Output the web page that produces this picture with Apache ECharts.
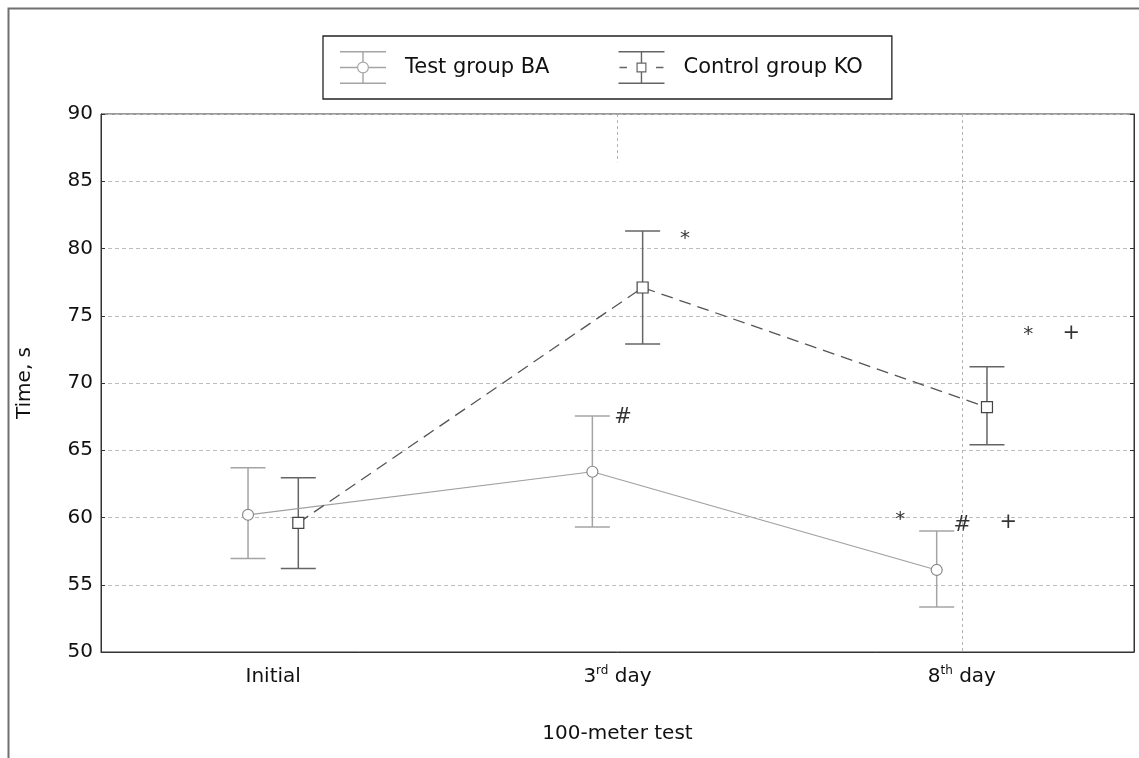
<!DOCTYPE html>
<html>
<head>
<meta charset="utf-8">
<script src="https://cdn.jsdelivr.net/npm/echarts@6/dist/echarts.min.js"></script>
<style>
  html, body { margin: 0; padding: 0; background: #fff; }
  #chart { width: 1139px; height: 758px; }
</style>
</head>
<body>
<div id="chart"></div>
<script>
// ---- data ----
const categories = ['Initial', '3rd day', '8th day'];
const yTicks = [50, 55, 60, 65, 70, 75, 80, 85, 90];

const testMean = [60.2, 63.4, 56.1];
const testLow  = [56.95, 59.3, 53.35];
const testHigh = [63.7, 67.55, 59.0];

const controlMean = [59.6, 77.1, 68.2];
const controlLow  = [56.2, 72.9, 65.4];
const controlHigh = [62.95, 81.3, 71.2];

// significance marks (text, x in category units, y in seconds)
const annoText = ['*', '#', '*', '+', '*', '#', '+'];
const annoX    = [1.196, 1.016, 2.193, 2.318, 1.821, 2.001, 2.135];
const annoY    = [81.2, 67.4, 74.0, 73.7, 60.3, 59.4, 59.6];

// reference vertical lines: [x, yFrom, yTo]
const refLines = [[2, 90, 50], [1, 90, 86.4]];

// ---- styling ----
const F = 'DejaVu Sans';
const OFF = 0.073;            // horizontal dodge between the two groups
const TEST_COLOR = '#a4a4a4';
const CTRL_COLOR = '#656565';

function errorBars(mean, low, high, sign) {
  return mean.map((m, i) => [i + sign * OFF, low[i], high[i]]);
}
function linePts(mean, sign) {
  return mean.map((m, i) => [i + sign * OFF, m]);
}
function barRenderer(color) {
  return function (params, api) {
    const x = api.value(0);
    const bot = api.coord([x, api.value(1)]);
    const top = api.coord([x, api.value(2)]);
    const hw = 17.5;
    const st = { stroke: color, lineWidth: 1.5, fill: null };
    return {
      type: 'group',
      children: [
        { type: 'line', shape: { x1: top[0], y1: top[1], x2: bot[0], y2: bot[1] }, style: st },
        { type: 'line', shape: { x1: top[0] - hw, y1: top[1], x2: top[0] + hw, y2: top[1] }, style: st },
        { type: 'line', shape: { x1: bot[0] - hw, y1: bot[1], x2: bot[0] + hw, y2: bot[1] }, style: st }
      ]
    };
  };
}

const testIcon = 'path://M0 0H46V1.4H0Z M0 31.6H46V33H0Z M22.3 1.4H23.7V10.5H22.3Z M22.3 22.5H23.7V31.6H22.3Z ' +
  'M0 15.8H17H17V17.2H0Z M29 15.8H46V17.2H29Z ' +
  'M29 16.5A6 6 0 1 0 17 16.5A6 6 0 1 0 29 16.5Z M27.8 16.5A4.8 4.8 0 1 1 18.2 16.5A4.8 4.8 0 1 1 27.8 16.5Z';
const ctrlIcon = 'path://M0 0H46V1.4H0Z M0 31.6H46V33H0Z M22.3 1.4H23.7V11.5H22.3Z M22.3 21.5H23.7V31.6H22.3Z ' +
  'M1 15.8H8.5V17.2H1Z M37.5 15.8H45V17.2H37.5Z ' +
  'M18 11.5H28V21.5H18Z M19.2 12.7V20.3H26.8V12.7Z';

const annoData = annoText.map((t, i) => ({
  value: [annoX[i], annoY[i]],
  label: {
    formatter: t,
    fontSize: t === '*' ? 20 : 21,
    fontWeight: t === '+' ? 'normal' : 'normal',
    offset: t === '*' ? [0, 6] : [0, 0]
  }
}));

const chart = echarts.init(document.getElementById('chart'), null, { renderer: 'canvas' });

const option = {
  backgroundColor: '#fff',
  animation: false,
  textStyle: { fontFamily: F },
  graphic: [
    { type: 'rect', shape: { x: 8.5, y: 8.5, width: 1300, height: 900 }, style: { fill: null, stroke: '#707070', lineWidth: 2 }, z: 100 }
  ],
  legend: {
    left: 323, top: 36,
    orient: 'horizontal',
    padding: [15, 29, 15, 17],
    itemWidth: 46, itemHeight: 33, itemGap: 69,
    borderColor: '#222', borderWidth: 1.3, backgroundColor: '#fff',
    selectedMode: false,
    textStyle: { fontFamily: F, fontSize: 21, color: '#111', padding: [0, 0, 8, 14] },
    data: [
      { name: 'Test group BA', icon: testIcon, itemStyle: { color: TEST_COLOR, borderWidth: 0 } },
      { name: 'Control group KO', icon: ctrlIcon, itemStyle: { color: CTRL_COLOR, borderWidth: 0 } }
    ]
  },
  grid: {
    left: 101, right: 5, top: 114, bottom: 106,
    show: true, borderColor: '#333', borderWidth: 1, backgroundColor: 'transparent'
  },
  xAxis: [
    {
      type: 'category', data: categories, boundaryGap: true,
      axisLine: { onZero: false, lineStyle: { color: '#333', width: 1 } },
      axisTick: { alignWithLabel: true, inside: true, length: 5, lineStyle: { color: '#333' } },
      splitLine: { show: false },
      axisLabel: {
        margin: 13, color: '#111',
        formatter: function (v) {
          const m = v.match(/^(\d+)(st|nd|rd|th) (.*)$/);
          return m ? '{b|' + m[1] + '}{s|' + m[2] + '}{b| ' + m[3] + '}' : '{b|' + v + '}';
        },
        rich: {
          b: { fontSize: 20, fontFamily: F, color: '#111', lineHeight: 24 },
          s: { fontSize: 12, fontFamily: F, color: '#111', verticalAlign: 'top' }
        }
      },
      name: '100-meter test', nameLocation: 'middle', nameGap: 72,
      nameTextStyle: { fontSize: 20, fontFamily: F, color: '#111' }
    },
    {
      type: 'value', min: -0.5, max: 2.5, show: false,
      axisLine: { onZero: false }
    }
  ],
  yAxis: [
    {
      type: 'value', min: yTicks[0], max: yTicks[yTicks.length - 1], interval: 5,
      axisLine: { show: true, onZero: false, lineStyle: { color: '#333', width: 1 } },
      axisTick: { show: true, inside: true, length: 4, lineStyle: { color: '#333' } },
      axisLabel: { fontSize: 20, fontFamily: F, color: '#111', margin: 8 },
      splitLine: { show: true, lineStyle: { color: '#bdbdbd', type: [4, 3], width: 1 } },
      name: 'Time, s', nameLocation: 'middle', nameGap: 66, nameRotate: 90,
      nameTextStyle: { fontSize: 20, fontFamily: F, color: '#111' }
    },
    {
      type: 'value', position: 'right', min: yTicks[0], max: yTicks[yTicks.length - 1], interval: 5,
      axisLine: { show: true, onZero: false, lineStyle: { color: '#333', width: 1 } },
      axisTick: { show: true, inside: true, length: 4, lineStyle: { color: '#333' } },
      axisLabel: { show: false },
      splitLine: { show: false }
    }
  ],
  series: [
    {
      type: 'custom', name: 'testErr', xAxisIndex: 1, yAxisIndex: 0, silent: true,
      renderItem: barRenderer(TEST_COLOR), encode: { x: 0, y: [1, 2] },
      data: errorBars(testMean, testLow, testHigh, -1), z: 2
    },
    {
      type: 'custom', name: 'ctrlErr', xAxisIndex: 1, yAxisIndex: 0, silent: true,
      renderItem: barRenderer(CTRL_COLOR), encode: { x: 0, y: [1, 2] },
      data: errorBars(controlMean, controlLow, controlHigh, 1), z: 2
    },
    {
      type: 'line', name: 'Test group BA', xAxisIndex: 1, yAxisIndex: 0,
      data: linePts(testMean, -1),
      symbol: 'circle', symbolSize: 11,
      lineStyle: { color: '#a0a0a0', width: 1.2 },
      itemStyle: { color: '#fff', borderColor: '#8a8a8a', borderWidth: 1.2 },
      z: 3, silent: true
    },
    {
      type: 'line', name: 'Control group KO', xAxisIndex: 1, yAxisIndex: 0,
      data: linePts(controlMean, 1),
      symbol: 'rect', symbolSize: 11,
      lineStyle: { color: '#555', width: 1.3, type: [12, 7] },
      itemStyle: { color: '#fff', borderColor: '#444', borderWidth: 1.2 },
      z: 3, silent: true
    },
    {
      type: 'scatter', name: 'marks', xAxisIndex: 1, yAxisIndex: 0,
      symbolSize: 0, silent: true,
      label: { show: true, position: 'inside', color: '#000', fontFamily: F },
      data: annoData,
      markLine: {
        silent: true, symbol: 'none', label: { show: false },
        lineStyle: { color: '#b5b5b5', type: [3, 3], width: 1 },
        data: refLines.map(r => [{ coord: [r[0], r[1]] }, { coord: [r[0], r[2]] }])
      },
      z: 4
    }
  ]
};
chart.setOption(option);
</script>
</body>
</html>
